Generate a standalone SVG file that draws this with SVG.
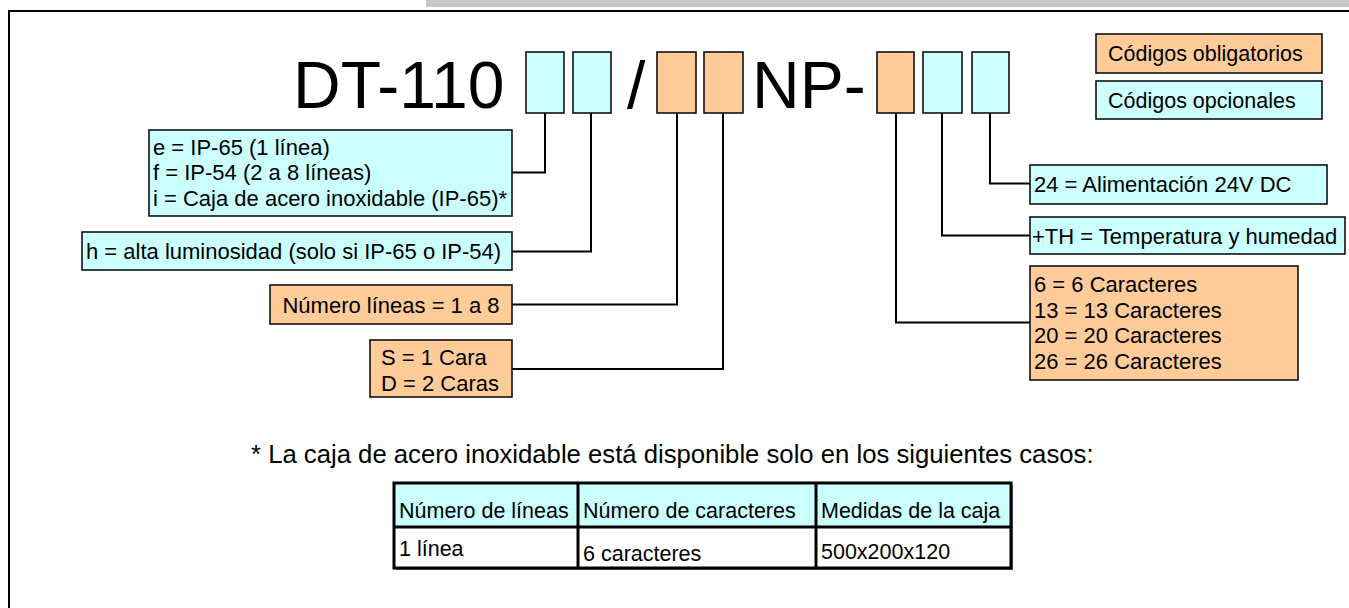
<svg xmlns="http://www.w3.org/2000/svg" width="1349" height="608" viewBox="0 0 1349 608">
<defs>
<style>
.t{font-family:"Liberation Sans",Arial,sans-serif;fill:#000}
.big{font-size:66px}
.lbl{font-size:22px}
.leg{font-size:21.5px}
.foot{font-size:25.7px}
.tbl{font-size:21.5px}
.cy{fill:#CCFFFF;stroke:#111;stroke-width:1.6}
.or{fill:#FFCC99;stroke:#111;stroke-width:1.6}
.conn{fill:none;stroke:#000;stroke-width:2}
.tl{fill:none;stroke:#000;stroke-width:3}
</style>
</defs>
<rect x="0" y="0" width="1349" height="608" fill="#fff"/>
<rect x="426" y="0" width="923" height="7" fill="#c8c8c8"/>
<rect x="9" y="11" width="1400" height="700" fill="none" stroke="#000" stroke-width="2"/>

<g id="title">
<text class="t big" x="293" y="108">DT-110</text>
<text class="t big" x="627" y="108">/</text>
<text class="t big" x="752" y="108">NP-</text>
</g>

<g id="code1"><rect class="cy" x="526" y="52" width="38" height="61"/></g>
<g id="code2"><rect class="cy" x="573" y="52" width="38" height="61"/></g>
<g id="code3"><rect class="or" x="657" y="52" width="39" height="61"/></g>
<g id="code4"><rect class="or" x="704" y="52" width="39" height="61"/></g>
<g id="code5"><rect class="or" x="877" y="52" width="37" height="61"/></g>
<g id="code6"><rect class="cy" x="923" y="52" width="39" height="61"/></g>
<g id="code7"><rect class="cy" x="972" y="52" width="37" height="61"/></g>

<g id="legend-obligatorios"><rect class="or" x="1096" y="34" width="226" height="39"/><text class="t leg" x="1108" y="61">Códigos obligatorios</text></g>
<g id="legend-opcionales"><rect class="cy" x="1096" y="81" width="226" height="38"/><text class="t leg" x="1108" y="108">Códigos opcionales</text></g>

<g id="connectors">
<polyline class="conn" points="545,113 545,172.5 512,172.5"/>
<polyline class="conn" points="591,113 591,251.5 512,251.5"/>
<polyline class="conn" points="677,113 677,304.5 512,304.5"/>
<polyline class="conn" points="723,113 723,369 512,369"/>
<polyline class="conn" points="990,113 990,183.5 1030,183.5"/>
<polyline class="conn" points="942,113 942,235.5 1030,235.5"/>
<polyline class="conn" points="896,113 896,322.5 1030,322.5"/>
</g>

<g id="box-proteccion">
<rect class="cy" x="149" y="130" width="363" height="86"/>
<text class="t lbl" x="153" y="154.5">e = IP-65 (1 línea)</text>
<text class="t lbl" x="153" y="180">f = IP-54 (2 a 8 líneas)</text>
<text class="t lbl" x="153" y="205.5">i = Caja de acero inoxidable (IP-65)*</text>
</g>
<g id="box-luminosidad">
<rect class="cy" x="82" y="232" width="430" height="38"/>
<text class="t lbl" x="86" y="259">h = alta luminosidad (solo si IP-65 o IP-54)</text>
</g>
<g id="box-lineas">
<rect class="or" x="270" y="285" width="242" height="39"/>
<text class="t lbl" x="391" y="312.5" text-anchor="middle">Número líneas = 1 a 8</text>
</g>
<g id="box-caras">
<rect class="or" x="370" y="340" width="142" height="57"/>
<text class="t lbl" x="381" y="364.5">S = 1 Cara</text>
<text class="t lbl" x="381" y="390.5">D = 2 Caras</text>
</g>

<g id="box-alimentacion">
<rect class="cy" x="1030" y="165" width="297" height="39"/>
<text class="t lbl" x="1034" y="191.5">24 = Alimentación 24V DC</text>
</g>
<g id="box-th">
<rect class="cy" x="1030" y="217" width="315" height="37"/>
<text class="t lbl" x="1032" y="243.5">+TH = Temperatura y humedad</text>
</g>
<g id="box-caracteres">
<rect class="or" x="1030" y="266" width="268" height="114"/>
<text class="t lbl" x="1034" y="292">6 = 6 Caracteres</text>
<text class="t lbl" x="1034" y="317.7">13 = 13 Caracteres</text>
<text class="t lbl" x="1034" y="343.4">20 = 20 Caracteres</text>
<text class="t lbl" x="1034" y="369.1">26 = 26 Caracteres</text>
</g>

<g id="footnote">
<text class="t foot" x="251" y="463">* La caja de acero inoxidable está disponible solo en los siguientes casos:</text>
</g>

<g id="table">
<rect x="396" y="485" width="617" height="85" fill="#777"/>
<rect x="394" y="483" width="617" height="44" fill="#CCFFFF"/>
<rect x="394" y="527" width="617" height="41" fill="#fff"/>
<rect class="tl" x="394" y="483" width="617" height="85"/>
<line class="tl" x1="394" y1="527" x2="1011" y2="527" stroke-width="4"/>
<line class="tl" x1="578" y1="483" x2="578" y2="568"/>
<line class="tl" x1="816" y1="483" x2="816" y2="568"/>
<text class="t tbl" x="399" y="518">Número de líneas</text>
<text class="t tbl" x="583" y="518">Número de caracteres</text>
<text class="t tbl" x="821" y="518">Medidas de la caja</text>
<text class="t tbl" x="399" y="556">1 línea</text>
<text class="t tbl" x="583" y="561">6 caracteres</text>
<text class="t tbl" x="821" y="559">500x200x120</text>
</g>
</svg>
